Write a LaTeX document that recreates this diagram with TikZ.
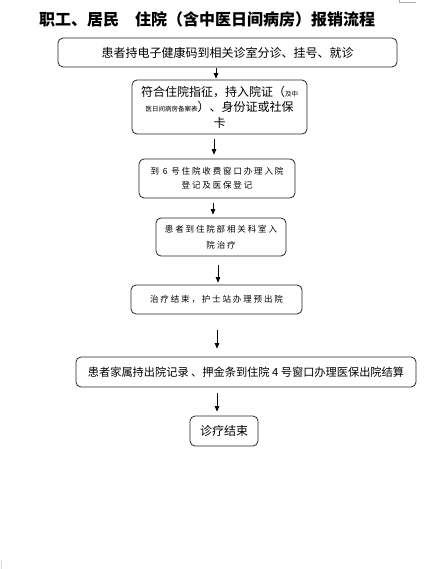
\documentclass[tikz,border=0pt]{standalone}
\usepackage{fontspec}
\usetikzlibrary{arrows.meta}
\setmainfont{Noto Sans CJK SC}
\newfontfamily\cjk{Noto Sans CJK SC}
\newfontfamily\cjksp{Noto Sans CJK SC}[LetterSpace=22]
\begin{document}
\begin{tikzpicture}[x=1pt,y=-1pt,
  box/.style={draw=black!85,line width=0.8pt,rounded corners=5pt,inner sep=0pt,align=center},
  arr/.style={draw=black,line width=0.7pt,-{Triangle[width=4.5pt,length=5.5pt]}}]
\useasboundingbox[fill=white] (0,0) rectangle (432,569);
% faint page corner marks
\draw[black!30,line width=0.5pt] (399,0) -- (399,2.5) -- (416,2.5);
\draw[black!15,line width=0.5pt] (1.5,560) -- (1.5,569);
% title
\node[font=\cjk\bfseries\fontsize{16}{18}\selectfont] (title) at (207,19) {职工、居民\hspace{1em}住院（含中医日间病房）报销流程};
% boxes
\node[box,minimum width=339pt,minimum height=29pt,font=\cjk\fontsize{12}{14}\selectfont] (b1) at (227.5,52.5) {患者持电子健康码到相关诊室分诊、挂号、就诊};
\node[box,minimum width=175pt,minimum height=54pt,font=\cjk\fontsize{12}{15.5}\selectfont] (b2) at (219.5,107)
 {符合住院指征，持入院证（{\fontsize{6.5}{8}\selectfont 及中}\\{\fontsize{6.5}{8}\selectfont 医日间病房备案表}）、身份证或社保\\卡};
\node[box,minimum width=156pt,minimum height=39pt,font=\cjksp\fontsize{8.5}{14}\selectfont] (b3) at (217,178.5) {到 6 号住院收费窗口办理入院\\登记及医保登记};
\node[box,minimum width=130pt,minimum height=38pt,font=\cjksp\fontsize{8.5}{16}\selectfont] (b4) at (221,237) {患者到住院部相关科室入\\院治疗};
\node[box,minimum width=171pt,minimum height=29pt,font=\cjksp\fontsize{8.5}{12}\selectfont] (b5) at (216.5,299.5) {治疗结束，护士站办理预出院};
\node[box,minimum width=340pt,minimum height=30pt,font=\cjk\fontsize{11.2}{14}\selectfont] (b6) at (246,372) {患者家属持出院记录 、押金条到住院 4 号窗口办理医保出院结算};
\node[box,minimum width=68pt,minimum height=30pt,font=\cjk\fontsize{12}{14}\selectfont] (b7) at (224,431) {诊疗结束};
% arrow x positions
\coordinate (x1) at (216,0);
\coordinate (x2) at (214,0);
\coordinate (x3) at (213,0);
\coordinate (x4) at (218,0);
\coordinate (x5) at (217,0);
\coordinate (x6) at (217,0);
\draw[arr,shorten <=1pt,shorten >=1pt] (b1.south -| x1) -- (b2.north -| x1);
\draw[arr,shorten <=5pt,shorten >=4pt] (b2.south -| x2) -- (b3.north -| x2);
\draw[arr,shorten <=5pt,shorten >=3pt] (b3.south -| x3) -- (b4.north -| x3);
\draw[arr,shorten <=9pt,shorten >=2pt] (b4.south -| x4) -- (b5.north -| x4);
\draw[arr,shorten <=16pt,shorten >=8pt] (b5.south -| x5) -- (b6.north -| x5);
\draw[arr,shorten <=6pt,shorten >=4pt] (b6.south -| x6) -- (b7.north -| x6);
\end{tikzpicture}
\end{document}
